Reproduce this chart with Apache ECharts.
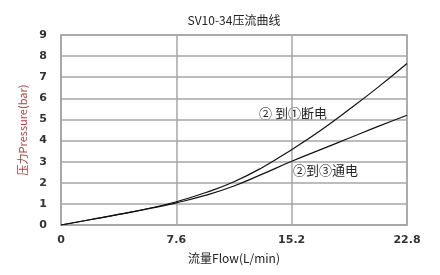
<!DOCTYPE html>
<html><head><meta charset="utf-8">
<script src="https://cdn.jsdelivr.net/npm/echarts@6/dist/echarts.min.js"></script>
<style>html,body{margin:0;padding:0;background:#fff}#c{width:440px;height:275px}</style>
</head><body><div id="c"></div>
<script>
var titleText = 'SV10-34压流曲线';
var xName = '流量Flow(L/min)';
var yName = '压力Pressure(bar)';
var flow = [0, 1.9, 3.8, 5.7, 7.6, 9.5, 11.4, 13.3, 15.2, 17.1, 19, 20.9, 22.8];
var offPressure = [0, 0.25, 0.5, 0.77, 1.1, 1.53, 2.05, 2.74, 3.57, 4.48, 5.48, 6.53, 7.65];
var onPressure = [0, 0.25, 0.5, 0.76, 1.05, 1.4, 1.85, 2.42, 3.02, 3.57, 4.12, 4.67, 5.2];
var offLabel = '② 到①断电';
var onLabel = '②到③通电';

function pairs(xs, ys){ return xs.map(function(x,i){ return [x, ys[i]]; }); }

var chart = echarts.init(document.getElementById('c'));
var lblFont = 'Verdana, "DejaVu Sans", sans-serif';
chart.setOption({
  animation: false,
  title: { text: titleText, left: 229, top: 9, textAlign: 'center',
    textStyle: { fontSize: 12, fontWeight: 'normal', color: '#222', fontFamily: '"Noto Sans CJK SC", sans-serif' } },
  grid: { left: 61, right: 33, top: 35, bottom: 50, show: true, borderColor: '#a6a6a6', borderWidth: 1.5 },
  xAxis: { type: 'value', min: 0, max: 22.8, interval: 7.6,
    name: xName, nameLocation: 'middle', nameGap: 27,
    nameTextStyle: { fontSize: 12, color: '#222', fontFamily: '"Noto Sans CJK SC", sans-serif' },
    axisLine: { show: true, lineStyle: { color: '#a6a6a6', width: 1.5 } },
    axisTick: { show: false },
    splitLine: { show: true, lineStyle: { color: '#a6a6a6', width: 1.5 } },
    axisLabel: { margin: 10, fontSize: 11, fontWeight: 'bold', color: '#333', fontFamily: lblFont,
      formatter: function(v){ return v === 0 ? '0' : v.toFixed(1); } } },
  yAxis: { type: 'value', min: 0, max: 9, interval: 1,
    name: yName, nameLocation: 'middle', nameGap: 30, nameRotate: 90,
    nameTextStyle: { fontSize: 11, color: '#a8433c', fontFamily: '"Noto Sans CJK SC", sans-serif' },
    axisLine: { show: true, lineStyle: { color: '#a6a6a6', width: 1.5 } },
    axisTick: { show: false },
    splitLine: { show: true, lineStyle: { color: '#a6a6a6', width: 1.5 } },
    axisLabel: { margin: 14, fontSize: 11, fontWeight: 'bold', color: '#333', fontFamily: lblFont } },
  series: [
    { type: 'line', name: offLabel, data: pairs(flow, offPressure), smooth: true, showSymbol: false,
      lineStyle: { color: '#111', width: 1.2 } },
    { type: 'line', name: onLabel, data: pairs(flow, onPressure), smooth: true, showSymbol: false,
      lineStyle: { color: '#111', width: 1.2 } }
  ],
  graphic: [
    { type: 'text', left: 259, top: 107, style: { text: offLabel, fontSize: 13, fill: '#222', fontFamily: '"Noto Sans CJK SC", sans-serif' } },
    { type: 'text', left: 293, top: 164, style: { text: onLabel, fontSize: 13, fill: '#222', fontFamily: '"Noto Sans CJK SC", sans-serif' } }
  ]
});
</script></body></html>
